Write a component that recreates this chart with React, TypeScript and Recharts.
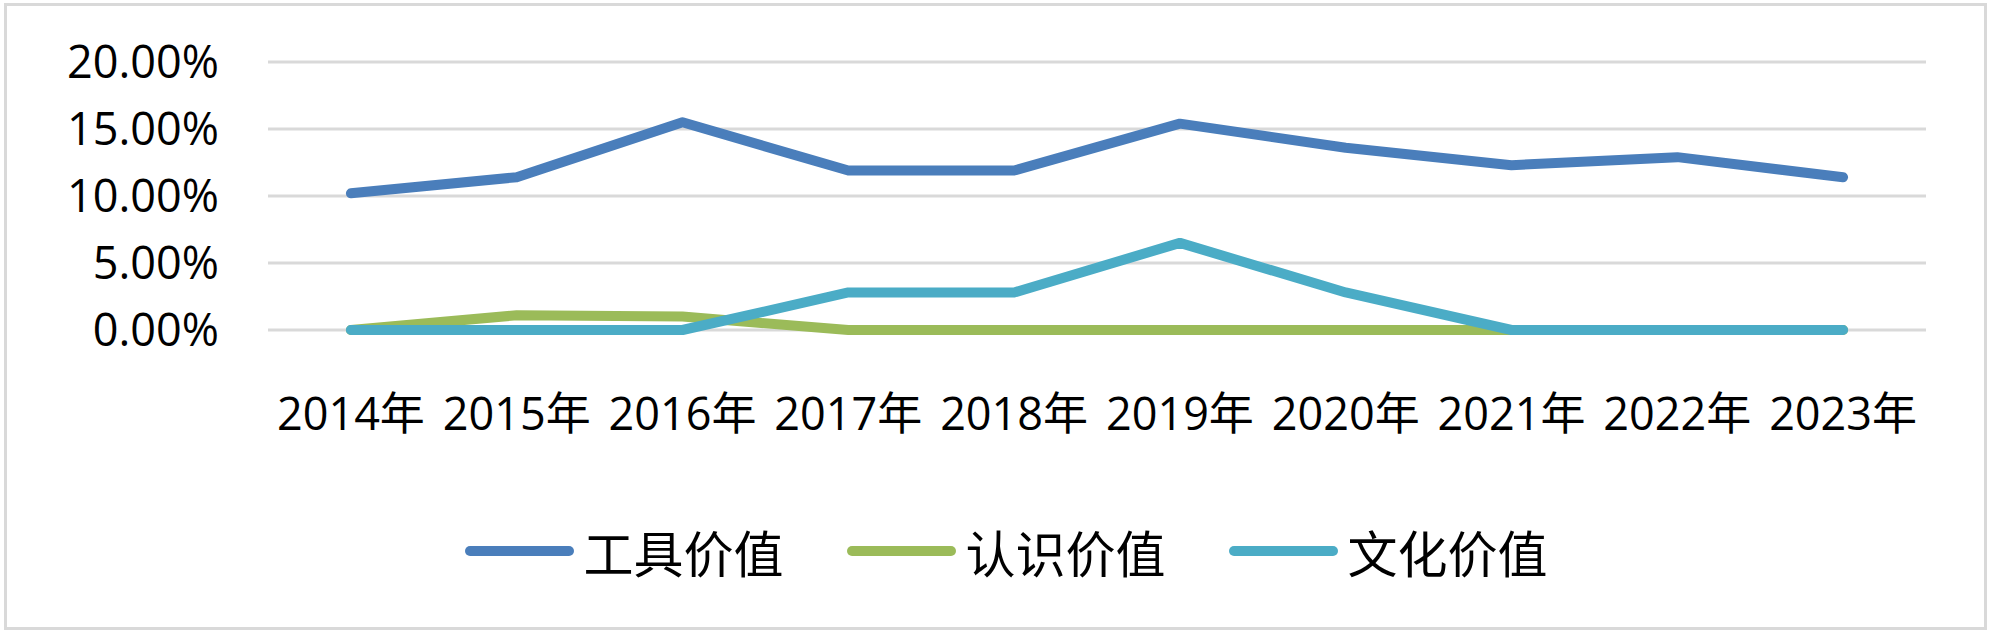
import React from 'react';
import { LineChart, Line, XAxis, YAxis, CartesianGrid, Legend } from 'recharts';

// ============================================
// Data
// ============================================

const years = ['2014年', '2015年', '2016年', '2017年', '2018年', '2019年', '2020年', '2021年', '2022年', '2023年'];

// values in percent
const toolValue = [10.2, 11.4, 15.5, 11.9, 11.9, 15.4, 13.6, 12.3, 12.9, 11.4];
const cognitiveValue = [0, 1.1, 1.0, 0, 0, 0, 0, 0, 0, 0];
const culturalValue = [0, 0, 0, 2.8, 2.8, 6.5, 2.8, 0, 0, 0];

const yTicks = [0, 5, 10, 15, 20];

const seriesNames = ['工具价值', '认识价值', '文化价值'];
const seriesColors = ['#4A7EBB', '#9BBB59', '#4BACC6'];

const data = years.map((year, i) => ({
  year,
  tool: toolValue[i],
  cognitive: cognitiveValue[i],
  cultural: culturalValue[i],
}));

const seriesKeys = ['tool', 'cognitive', 'cultural'];

const LATIN_FONT = "'Open Sans', 'Noto Sans CJK SC', sans-serif";
const CJK_FONT = "'Noto Sans CJK SC', sans-serif";

// ============================================
// Legend
// ============================================

const renderLegend = () => (
  <div
    style={{
      display: 'flex',
      justifyContent: 'center',
      alignItems: 'center',
      gap: 63,
      height: 60,
    }}
  >
    {seriesNames.map((name, i) => (
      <div key={name} style={{ display: 'flex', alignItems: 'center' }}>
        <span
          style={{
            display: 'inline-block',
            width: 109,
            height: 10,
            borderRadius: 5,
            backgroundColor: seriesColors[i],
            marginRight: 10,
          }}
        />
        <span style={{ fontFamily: CJK_FONT, fontSize: 50, lineHeight: '60px', color: '#000' }}>{name}</span>
      </div>
    ))}
  </div>
);

// ============================================
// App
// ============================================

export default function App() {
  return (
    <div style={{ position: 'relative', width: 2000, height: 642, background: '#fff' }}>
      <style>{`body { margin: 0; }`}</style>
      <div
        style={{
          position: 'absolute',
          left: 4,
          top: 3,
          width: 1983,
          height: 627,
          border: '3px solid #D9D9D9',
          boxSizing: 'border-box',
        }}
      />
      <div style={{ position: 'absolute', left: 0, top: 0 }}>
        <LineChart width={2000} height={642} data={data} margin={{ top: 62, right: 74, left: 0, bottom: 212 }}>
          <CartesianGrid vertical={false} stroke="#D9D9D9" strokeWidth={3} />
          <XAxis
            dataKey="year"
            scale="band"
            axisLine={false}
            tickLine={false}
            tickSize={0}
            tickMargin={68}
            height={100}
            interval={0}
            tick={{ fontSize: 45, fill: '#000', fontFamily: LATIN_FONT }}
          />
          <YAxis
            domain={[0, 20]}
            ticks={yTicks}
            axisLine={false}
            tickLine={false}
            tickSize={0}
            tickMargin={49}
            width={268}
            tickFormatter={(v: number) => `${v.toFixed(2)}%`}
            tick={{ fontSize: 45, fill: '#000', fontFamily: LATIN_FONT }}
          />
          <Legend
            layout="horizontal"
            align="center"
            verticalAlign="middle"
            content={renderLegend as never}
            wrapperStyle={{ left: 6, top: 521, width: 2000 }}
          />
          {seriesKeys.map((key, i) => (
            <Line
              key={key}
              type="linear"
              dataKey={key}
              name={seriesNames[i]}
              stroke={seriesColors[i]}
              strokeWidth={10}
              strokeLinecap="round"
              strokeLinejoin="round"
              dot={false}
              activeDot={false}
              isAnimationActive={false}
            />
          ))}
        </LineChart>
      </div>
    </div>
  );
}
